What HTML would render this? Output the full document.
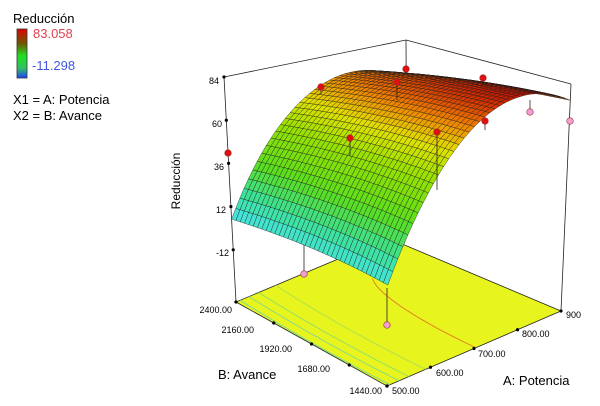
<!DOCTYPE html>
<html><head><meta charset="utf-8">
<style>
html,body{margin:0;padding:0;background:#fff;}
svg{display:block;font-family:"Liberation Sans",Arial,sans-serif;}
</style></head>
<body>
<svg id="s" width="600" height="406" viewBox="0 0 600 406" xmlns="http://www.w3.org/2000/svg">
<defs>
<linearGradient id="lg" x1="0" y1="0" x2="0" y2="1">
<stop offset="0" stop-color="#e00000"/>
<stop offset="0.3" stop-color="#6a5a00"/>
<stop offset="0.55" stop-color="#20e020"/>
<stop offset="0.8" stop-color="#30c060"/>
<stop offset="1" stop-color="#2040ff"/>
</linearGradient>
</defs>
<text x="13" y="23" font-size="13">Reducción</text>
<rect x="17" y="29" width="10" height="49" fill="url(#lg)" stroke="#333" stroke-width="0.8"/>
<text x="33" y="38" font-size="13" fill="#e04050">83.058</text>
<text x="32" y="70" font-size="13" fill="#4058e0">-11.298</text>
<text x="13" y="104" font-size="13">X1 = A: Potencia</text>
<text x="13" y="120" font-size="13">X2 = B: Avance</text>
<text transform="translate(180,181) rotate(-90)" font-size="12" text-anchor="middle">Reducción</text>
<g id="g"></g>
<g font-size="9">
<text x="219" y="84" text-anchor="end">84</text>
<text x="222" y="127" text-anchor="end">60</text>
<text x="224" y="170" text-anchor="end">36</text>
<text x="226" y="213" text-anchor="end">12</text>
<text x="229" y="256" text-anchor="end">-12</text>
<text x="232" y="313" text-anchor="end">2400.00</text>
<text x="254" y="333" text-anchor="end">2160.00</text>
<text x="292" y="352" text-anchor="end">1920.00</text>
<text x="330" y="372" text-anchor="end">1680.00</text>
<text x="382" y="394" text-anchor="end">1440.00</text>
<text x="392" y="394">500.00</text>
<text x="436" y="376">600.00</text>
<text x="478" y="357">700.00</text>
<text x="522" y="337">800.00</text>
<text x="566" y="318">900</text>
</g>
<text x="218" y="379" font-size="13">B: Avance</text>
<text x="503" y="385" font-size="13">A: Potencia</text>
</svg>
<script>
var F=[387,386],R=[561,311],Bk=[388,238],L=[236,302];
var Ft=[389,121],Rt=[571,84],Bt=[406,40],Lt=[224,77];
function bl(c0,c1,c2,c3,a,b){
 return [(1-a)*(1-b)*c0[0]+a*(1-b)*c1[0]+a*b*c2[0]+(1-a)*b*c3[0],
         (1-a)*(1-b)*c0[1]+a*(1-b)*c1[1]+a*b*c2[1]+(1-a)*b*c3[1]];}
function P(a,b,z){var f=bl(F,R,Bk,L,a,b),t=bl(Ft,Rt,Bt,Lt,a,b),s=(z+41)/125;
 return [f[0]+(t[0]-f[0])*s,f[1]+(t[1]-f[1])*s];}
function Z(a,b){return 83-133.8*(a-0.7555)*(a-0.7555)-b*(1.6+14*a)+10*b*(1-b);}
var stops=[[-11,0,0,255],[5,70,228,235],[18,60,225,150],[32,90,222,30],[50,150,225,0],[62,225,225,0],[72,240,130,0],[83,200,20,0]];
function col(z){if(z<=stops[0][0])return 'rgb(0,0,255)';
 for(var i=1;i<stops.length;i++){if(z<=stops[i][0]){var p=stops[i-1],q=stops[i],t=(z-p[0])/(q[0]-p[0]);
 return 'rgb('+[1,2,3].map(function(k){return Math.round(p[k]+(q[k]-p[k])*t)}).join(',')+')';}}
 return 'rgb(200,20,0)';}
function pt(p){return p[0].toFixed(1)+','+p[1].toFixed(1);}
var h='';
h+='<polygon points="'+[F,R,Bk,L].map(pt).join(' ')+'" fill="#e8f41e" stroke="#222" stroke-width="0.8"/>';
var lev=[[10,'#70d8a0'],[20,'#80d890'],[30,'#90dc70'],[45,'#a8e050'],[75,'#e07a20']];
lev.forEach(function(l){var pts=[];for(var j=0;j<=30;j++){var b=j/30,lo=0,hi=0.7555;
 if(Z(lo,b)>l[0]||Z(hi,b)<l[0])continue;for(var k=0;k<30;k++){var m=(lo+hi)/2;if(Z(m,b)<l[0])lo=m;else hi=m;}
 pts.push(pt(bl(F,R,Bk,L,lo,b)));}
 if(pts.length>1)h+='<polyline points="'+pts.join(' ')+'" fill="none" stroke="'+l[1]+'" stroke-width="0.9"/>';});
function ln(p,q,w){return '<line x1="'+p[0]+'" y1="'+p[1]+'" x2="'+q[0]+'" y2="'+q[1]+'" stroke="#222" stroke-width="'+(w||0.8)+'"/>';}
h+=ln(L,Lt)+ln(R,Rt)+ln(Lt,Bt)+ln(Bt,Rt)+ln([407,227],Bt);
[84,60,36,12,-12].forEach(function(z){var p=P(0,1,z);h+='<circle cx="'+p[0]+'" cy="'+p[1]+'" r="1.6" fill="#000"/>';});
[0,0.25,0.5,0.75,1].forEach(function(s){var p=bl(F,R,Bk,L,0,s);h+='<circle cx="'+p[0]+'" cy="'+p[1]+'" r="1.6" fill="#000"/>';
 p=bl(F,R,Bk,L,s,0);h+='<circle cx="'+p[0]+'" cy="'+p[1]+'" r="1.6" fill="#000"/>';});
function ball(x,y,c,sy){var s='';if(sy!==undefined)s+='<line x1="'+x+'" y1="'+y+'" x2="'+x+'" y2="'+sy+'" stroke="#222" stroke-width="0.8"/>';
 return s+'<circle cx="'+x+'" cy="'+y+'" r="3.3" fill="'+c+'" stroke="#933" stroke-width="0.6"/>';}
h+=ball(304,274,'#f0a0d0',242)+ball(387,325,'#f0a0d0',288);
var N=36,quads=[];
for(var i=0;i<N;i++)for(var j=0;j<N;j++){var a0=i/N,a1=(i+1)/N,b0=j/N,b1=(j+1)/N;
 var z=(Z(a0,b0)+Z(a1,b0)+Z(a1,b1)+Z(a0,b1))/4;
 quads.push({d:a0+b0,s:'<polygon points="'+[P(a0,b0,Z(a0,b0)),P(a1,b0,Z(a1,b0)),P(a1,b1,Z(a1,b1)),P(a0,b1,Z(a0,b1))].map(pt).join(' ')+'" fill="'+col(z)+'" stroke="#1a1a1a" stroke-width="0.5" stroke-opacity="0.75"/>'});}
quads.sort(function(p,q){return q.d-p.d;});
h+=quads.map(function(q){return q.s}).join('');
var red='#e01010';
h+=ball(321,87,red,94)+ball(406,69,red,74)+ball(397,82,red,100)+ball(483,78,red,84)+ball(485,121,red,130)+ball(350,138,red,156)+ball(437,132,red,190)+ball(228,153,red);
h+='<line x1="530" y1="100" x2="530" y2="112" stroke="#222" stroke-width="0.8"/>'+ball(530,112,'#f0a0d0')+ball(570,121,'#f0a0d0');
document.getElementById('g').innerHTML=h;
</script>
</body></html>
